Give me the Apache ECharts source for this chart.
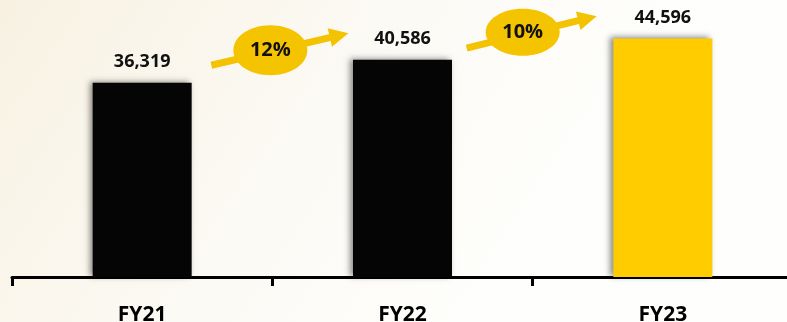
<!DOCTYPE html>
<html>
<head>
<meta charset="utf-8">
<script src="https://cdn.jsdelivr.net/npm/echarts@6/dist/echarts.min.js"></script>
<style>
html,body{margin:0;padding:0;background:#fff;}
#c{width:787px;height:322px;}
</style>
</head>
<body>
<div id="c"></div>
<script>
const categories = ['FY21', 'FY22', 'FY23'];
const revenue = [36319, 40586, 44596];
const growthLabels = ['12%', '10%'];

const barColors = ['#050505', '#050505', '#FFCC00'];
// arrow annotation layout offsets (pixels) relative to category boundary and mid bar-top
const arrowLayout = [
  {sx: -61, sy: -6, tx: 76, ty: -38, ex: -2, ey: -21, ry: 25},
  {sx: -66, sy: -1, tx: 64, ty: -33, ex: -10, ey: -17, ry: 23.5}
];
const FONT = '"Open Sans", sans-serif';

const chart = echarts.init(document.getElementById('c'), null, {renderer: 'canvas'});

const option = {
  animation: false,
  backgroundColor: 'transparent',
  grid: {left: 12, top: 9.5, right: -6, bottom: 45, containLabel: false, outerBoundsMode: 'none'},
  xAxis: {
    type: 'category',
    data: categories,
    boundaryGap: true,
    axisLine: {show: true, lineStyle: {color: '#000', width: 3}},
    axisTick: {show: true, alignWithLabel: false, length: 9, lineStyle: {color: '#000', width: 3}},
    axisLabel: {color: '#000', fontSize: 21, fontWeight: 'bold', fontFamily: FONT, margin: 28}
  },
  yAxis: {
    type: 'value', min: 0, max: 50000, show: false,
    splitLine: {show: false}
  },
  series: [{
    type: 'bar',
    data: revenue.map((v, i) => ({value: v, itemStyle: {color: barColors[i]}})),
    barWidth: 99,
    itemStyle: {shadowColor: 'rgba(0,0,0,0.45)', shadowBlur: 6, shadowOffsetX: -3, shadowOffsetY: -1},
    label: {
      show: true, position: 'top', distance: 12,
      color: '#111', fontSize: 18, fontWeight: 'bold', fontFamily: FONT,
      formatter: p => p.value.toLocaleString('en-US')
    },
    z: 2
  }]
};
chart.setOption(option);

function buildGraphics() {
  const g = [];
  g.push({
    type: 'rect', z: -100, silent: true,
    shape: {x: 0, y: 0, width: 787, height: 322},
    style: {fill: new echarts.graphic.LinearGradient(0, 0, 0.6, 1, [
      {offset: 0, color: '#F8F1E2'},
      {offset: 0.3, color: '#FAF6EC'},
      {offset: 0.6, color: '#FCFAF5'},
      {offset: 1, color: '#FEFEFC'}
    ])}
  });
  for (let i = 0; i < growthLabels.length; i++) {
    const c1 = chart.convertToPixel({gridIndex: 0}, [i, revenue[i]]);
    const c2 = chart.convertToPixel({gridIndex: 0}, [i + 1, revenue[i + 1]]);
    const bx = (c1[0] + c2[0]) / 2;
    const my = (c1[1] + c2[1]) / 2;
    const L = arrowLayout[i];
    const S = [bx + L.sx, my + L.sy];
    const T = [bx + L.tx, my + L.ty];
    const dx = T[0] - S[0], dy = T[1] - S[1];
    const len = Math.hypot(dx, dy);
    const ux = dx / len, uy = dy / len;
    const nx = -uy, ny = ux;
    const headLen = 19, headHalf = 9.5;
    const E = [T[0] - ux * headLen, T[1] - uy * headLen];
    const col = '#F3C200';
    g.push({type: 'line', z: 10, silent: true,
      shape: {x1: S[0], y1: S[1], x2: E[0] + ux * 2, y2: E[1] + uy * 2},
      style: {stroke: col, lineWidth: 7}});
    g.push({type: 'polygon', z: 10, silent: true,
      shape: {points: [T, [E[0] + nx * headHalf, E[1] + ny * headHalf], [E[0] - nx * headHalf, E[1] - ny * headHalf]]},
      style: {fill: col}});
    const ex = bx + L.ex, ey = my + L.ey;
    g.push({type: 'ellipse', z: 11, silent: true,
      shape: {cx: ex, cy: ey, rx: 37, ry: L.ry},
      style: {fill: '#F5C400'}});
    g.push({type: 'text', z: 12, silent: true, x: ex, y: ey,
      style: {text: growthLabels[i], fill: '#111', font: 'bold 20px ' + FONT, align: 'center', verticalAlign: 'middle'}});
  }
  chart.setOption({graphic: g});
}
buildGraphics();
</script>
</body>
</html>
